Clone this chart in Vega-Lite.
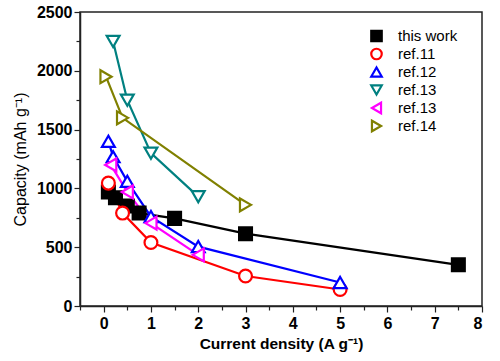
{
  "$schema": "https://vega.github.io/schema/vega-lite/v6.json",
  "width": 402,
  "height": 294,
  "autosize": {"type": "none"},
  "padding": {"left": 80, "top": 12, "right": 18, "bottom": 55},
  "background": "white",
  "config": {
    "font": "Liberation Sans",
    "view": {"stroke": "#222222", "strokeWidth": 1.5},
    "axis": {
      "grid": false,
      "domainColor": "#222222",
      "domainWidth": 1.5,
      "tickColor": "#222222",
      "tickWidth": 1.2,
      "labelFont": "Liberation Sans",
      "labelFontSize": 16,
      "labelFontWeight": "bold",
      "labelColor": "black",
      "titleFont": "Liberation Sans",
      "titleColor": "black"
    },
    "legend": {
      "title": null,
      "orient": "none",
      "legendX": 289,
      "legendY": 15,
      "labelFont": "Liberation Sans",
      "labelFontSize": 15,
      "labelColor": "black",
      "symbolSize": 110,
      "symbolStrokeWidth": 2.2,
      "rowPadding": 0,
      "clipHeight": 18,
      "labelOffset": 14
    }
  },
  "data": {
    "values": [
      {"series": "this work", "x": 0.1, "y": 970},
      {"series": "this work", "x": 0.25, "y": 920},
      {"series": "this work", "x": 0.5, "y": 850},
      {"series": "this work", "x": 0.75, "y": 790},
      {"series": "this work", "x": 1.5, "y": 745},
      {"series": "this work", "x": 3, "y": 615},
      {"series": "this work", "x": 7.5, "y": 350},
      {"series": "ref.11", "x": 0.1, "y": 1045},
      {"series": "ref.11", "x": 0.4, "y": 790},
      {"series": "ref.11", "x": 1, "y": 540},
      {"series": "ref.11", "x": 3, "y": 255},
      {"series": "ref.11", "x": 5, "y": 140},
      {"series": "ref.12", "x": 0.1, "y": 1400},
      {"series": "ref.12", "x": 0.2, "y": 1270},
      {"series": "ref.12", "x": 0.5, "y": 1060},
      {"series": "ref.12", "x": 1, "y": 760},
      {"series": "ref.12", "x": 2, "y": 505},
      {"series": "ref.12", "x": 5, "y": 200},
      {"series": "ref.13a", "x": 0.2, "y": 2250},
      {"series": "ref.13a", "x": 0.5, "y": 1750},
      {"series": "ref.13a", "x": 1, "y": 1300},
      {"series": "ref.13a", "x": 2, "y": 930},
      {"series": "ref.13b", "x": 0.15, "y": 1200},
      {"series": "ref.13b", "x": 0.5, "y": 970},
      {"series": "ref.13b", "x": 1, "y": 705},
      {"series": "ref.13b", "x": 2, "y": 435},
      {"series": "ref.14", "x": 0.05, "y": 1950},
      {"series": "ref.14", "x": 0.4, "y": 1600},
      {"series": "ref.14", "x": 3, "y": 860}
    ]
  },
  "encoding": {
    "x": {
      "field": "x",
      "type": "quantitative",
      "scale": {"domain": [-0.5, 8], "nice": false, "zero": false},
      "axis": {
        "values": [-0.5, 0, 0.5, 1, 1.5, 2, 2.5, 3, 3.5, 4, 4.5, 5, 5.5, 6, 6.5, 7, 7.5, 8],
        "labelExpr": "datum.value % 1 === 0 ? datum.value : ''",
        "tickSize": {"condition": {"test": "datum.value % 1 !== 0", "value": 4}, "value": 6},
        "labelPadding": 3,
        "title": "Current density (A g⁻¹)",
        "titleFontSize": 15.5,
        "titleFontWeight": "bold",
        "titlePadding": 5
      }
    },
    "y": {
      "field": "y",
      "type": "quantitative",
      "scale": {"domain": [0, 2500], "nice": false},
      "axis": {
        "values": [0, 250, 500, 750, 1000, 1250, 1500, 1750, 2000, 2250, 2500],
        "labelExpr": "datum.value % 500 === 0 ? datum.value : ''",
        "tickSize": {"condition": {"test": "datum.value % 500 !== 0", "value": 4}, "value": 6},
        "labelPadding": 2,
        "title": "Capacity (mAh g⁻¹)",
        "titleFontSize": 16,
        "titleFontWeight": "normal",
        "titlePadding": 8
      }
    },
    "stroke": {
      "field": "series",
      "type": "nominal",
      "scale": {
        "domain": ["this work", "ref.11", "ref.12", "ref.13a", "ref.13b", "ref.14"],
        "range": ["#000000", "#FF0000", "#0000FF", "#008080", "#FF00FF", "#808000"]
      },
      "legend": {
        "labelExpr": "datum.label === 'ref.13a' || datum.label === 'ref.13b' ? 'ref.13' : datum.label"
      }
    }
  },
  "layer": [
    {
      "mark": {"type": "line", "strokeWidth": 2.2},
      "encoding": {
        "order": {"field": "x"}
      }
    },
    {
      "mark": {"type": "point", "size": 165, "strokeWidth": 2.2, "opacity": 1, "fillOpacity": 1},
      "encoding": {
        "fill": {
          "field": "series",
          "type": "nominal",
          "scale": {
            "domain": ["this work", "ref.11", "ref.12", "ref.13a", "ref.13b", "ref.14"],
            "range": ["#000000", "#FFFFFF", "#FFFFFF", "#FFFFFF", "#FFFFFF", "#FFFFFF"]
          },
          "legend": {
            "labelExpr": "datum.label === 'ref.13a' || datum.label === 'ref.13b' ? 'ref.13' : datum.label"
          }
        },
        "shape": {
          "field": "series",
          "type": "nominal",
          "scale": {
            "domain": ["this work", "ref.11", "ref.12", "ref.13a", "ref.13b", "ref.14"],
            "range": ["square", "circle", "triangle-up", "triangle-down", "triangle-left", "triangle-right"]
          },
          "legend": {
            "labelExpr": "datum.label === 'ref.13a' || datum.label === 'ref.13b' ? 'ref.13' : datum.label"
          }
        }
      }
    }
  ]
}
